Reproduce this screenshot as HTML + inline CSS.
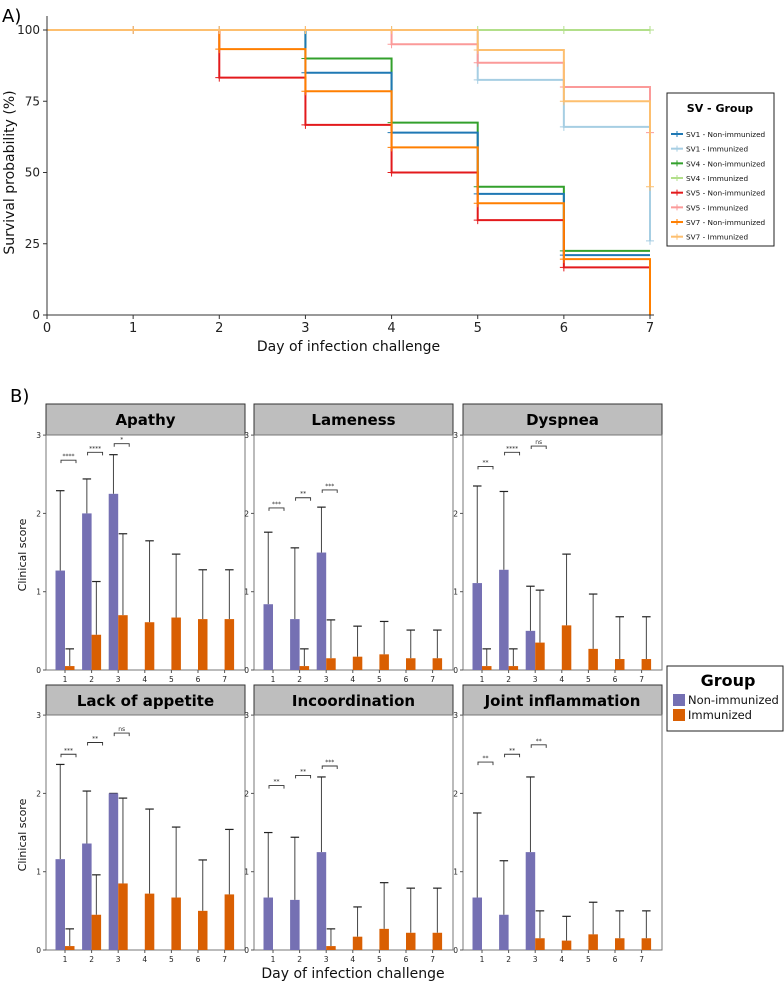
<!DOCTYPE html>
<html><head><meta charset="utf-8"><style>
html,body{margin:0;padding:0;background:#fff;}
svg{display:block;font-family:"DejaVu Sans","Liberation Sans",sans-serif;}
</style></head><body>
<svg id="chart" width="784" height="987" viewBox="0 0 784 987" xmlns="http://www.w3.org/2000/svg"></svg>
<script>
// ---------- Panel A data ----------
const days = [0,1,2,3,4,5,6,7];
const seriesNames = ["SV1 - Non-immunized","SV1 - Immunized","SV4 - Non-immunized","SV4 - Immunized","SV5 - Non-immunized","SV5 - Immunized","SV7 - Non-immunized","SV7 - Immunized"];
const sv1NonImm = [100,100,100,85,64,42.5,21];
const sv1Imm = [100,100,100,100,100,82.5,66,26];
const sv4NonImm = [100,100,100,90,67.5,45,22.5];
const sv4Imm = [100,100,100,100,100,100,100,100];
const sv5NonImm = [100,100,83.3,66.7,50,33.3,16.7];
const sv5Imm = [100,100,100,100,95,88.5,80,64];
const sv7NonImm = [100,100,93.3,78.5,58.8,39.2,19.6,0];
const sv7Imm = [100,100,100,100,100,93,75,45];
const survTicks = [0,25,50,75,100];
const colors = ["#1f78b4","#a6cee3","#33a02c","#b2df8a","#e31a1c","#fb9a99","#ff7f00","#fdbf6f"];

// ---------- Panel B data ----------
const categories = [1,2,3,4,5,6,7];
const facetTitles = ["Apathy","Lameness","Dyspnea","Lack of appetite","Incoordination","Joint inflammation"];
const nonImmMean = [[1.27,2.0,2.25],[0.84,0.65,1.5],[1.11,1.28,0.5],[1.16,1.36,2.0],[0.67,0.64,1.25],[0.67,0.45,1.25]];
const nonImmUpper = [[2.29,2.44,2.75],[1.76,1.56,2.08],[2.35,2.28,1.07],[2.37,2.03,2.0],[1.5,1.44,2.21],[1.75,1.14,2.21]];
const immMean = [[0.05,0.45,0.70,0.61,0.67,0.65,0.65],[0,0.05,0.15,0.17,0.2,0.15,0.15],[0.05,0.05,0.35,0.57,0.27,0.14,0.14],[0.05,0.45,0.85,0.72,0.67,0.5,0.71],[0,0,0.05,0.17,0.27,0.22,0.22],[0,0,0.15,0.12,0.2,0.15,0.15]];
const immUpper = [[0.27,1.13,1.74,1.65,1.48,1.28,1.28],[0,0.27,0.64,0.56,0.62,0.51,0.51],[0.27,0.27,1.02,1.48,0.97,0.68,0.68],[0.27,0.96,1.94,1.8,1.57,1.15,1.54],[0,0,0.27,0.55,0.86,0.79,0.79],[0,0,0.5,0.43,0.61,0.5,0.5]];
const sigLabels = [["****","****","*"],["***","**","***"],["**","****","ns"],["***","**","ns"],["**","**","***"],["**","**","**"]];
const sigHeights = [[2.68,2.78,2.89],[2.07,2.2,2.3],[2.6,2.78,2.86],[2.5,2.65,2.77],[2.1,2.23,2.35],[2.4,2.5,2.62]];
const scoreTicks = [0,1,2,3];

const svg = document.getElementById('chart');
const NS = "http://www.w3.org/2000/svg";
function mk(tag, attrs, parent, text){
  const e = document.createElementNS(NS, tag);
  for (const k in attrs) e.setAttribute(k, attrs[k]);
  if (text !== undefined) e.textContent = text;
  (parent||svg).appendChild(e);
  return e;
}

// ---- Panel A ----
const ax0 = 47, ax1 = 650, ay0 = 315, ay1 = 30;
const sx = d => ax0 + (ax1-ax0)*d/7;
const sy = v => ay0 - (ay0-ay1)*v/100;
const gA = mk('g', {});


let t = mk('text', {x:2, y:22, 'font-size':18, fill:'#000'}, gA, 'A)');



const seriesData = [sv1NonImm, sv1Imm, sv4NonImm, sv4Imm, sv5NonImm, sv5Imm, sv7NonImm, sv7Imm];
const order = [2,0,4,6,3,1,5,7];
order.forEach(i => {
  const vals = seriesData[i];
  let d = `M${sx(0)},${sy(vals[0])}`;
  for (let k = 1; k < vals.length; k++) {
    d += ` H${sx(days[k])} V${sy(vals[k])}`;
  }
  if (vals.length < 8) d += ` H${sx(7)}`;
  const p = mk('path', {d:d, fill:'none', stroke:colors[i], 'stroke-width':2}, gA);
  
  
  for (let k = 1; k < vals.length; k++) {
    if (vals[k] > 0) {
      const cx = sx(days[k]), cy = sy(vals[k]);
      mk('path', {d:`M${cx-4},${cy} H${cx+4} M${cx},${cy-4} V${cy+4}`, stroke:colors[i], 'stroke-width':1}, gA);
    }
  }
});
mk('line', {x1:ax0, y1:ay0, x2:ax1+4, y2:ay0, stroke:'#333', 'stroke-width':1}, gA);
mk('line', {x1:ax0, y1:ay0, x2:ax0, y2:16, stroke:'#333', 'stroke-width':1}, gA);
days.forEach(d => {
  mk('line', {x1:sx(d), y1:ay0, x2:sx(d), y2:ay0+4, stroke:'#333'}, gA);
  const tl = mk('text', {x:sx(d), y:ay0+17, 'font-size':13, 'text-anchor':'middle', fill:'#222'}, gA, d);
  
  
});
survTicks.forEach(v => {
  mk('line', {x1:ax0-4, y1:sy(v), x2:ax0, y2:sy(v), stroke:'#333'}, gA);
  const tl = mk('text', {x:ax0-7, y:sy(v)+4, 'font-size':12, 'text-anchor':'end', fill:'#222'}, gA, v);
  
  
});
t = mk('text', {x:sx(3.5), y:351, 'font-size':14, 'text-anchor':'middle', fill:'#111'}, gA, 'Day of infection challenge');


t = mk('text', {x:0, y:0, 'font-size':14, 'text-anchor':'middle', fill:'#111', transform:`translate(14,${sy(50)}) rotate(-90)`}, gA, 'Survival probability (%)');


const lg = mk('g', {}, gA);


mk('rect', {x:667, y:93, width:107, height:153, fill:'#fff', stroke:'#222', 'stroke-width':1}, lg);
mk('text', {x:720, y:112, 'font-size':11, 'font-weight':'bold', 'text-anchor':'middle', fill:'#000'}, lg, 'SV - Group');
seriesNames.forEach((n,i) => {
  const y = 134 + i*14.67;
  const e = mk('g', {}, lg);
  
  
  mk('line', {x1:671, y1:y, x2:683, y2:y, stroke:colors[i], 'stroke-width':2}, e);
  mk('line', {x1:677, y1:y-3, x2:677, y2:y+3, stroke:colors[i], 'stroke-width':1}, e);
  mk('text', {x:686, y:y+3, 'font-size':7.3, fill:'#111'}, e, n);
});

// ---- Panel B ----
const gB = mk('g', {});


t = mk('text', {x:10, y:402, 'font-size':18, fill:'#000'}, gB, 'B)');


const lefts = [46,254,463], pw = 199;
const rows = [{strip:404, top:435, zero:670}, {strip:685, top:715, zero:950}];
const unit = 78.3;
facetTitles.forEach((title, f) => {
  const col = f % 3, row = Math.floor(f/3);
  const L = lefts[col], R = rows[row];
  const g = mk('g', {}, gB);
  
  
  const yv = v => R.zero - v*unit;
  const xc = c => L + 19 + (c-1)*26.6;
  mk('rect', {x:L, y:R.strip, width:pw, height:R.top-R.strip, fill:'#bebebe', stroke:'#333', 'stroke-width':1}, g);
  const st = mk('text', {x:L+pw/2, y:R.strip+21, 'font-size':15, 'font-weight':'bold', 'text-anchor':'middle', fill:'#000'}, g, title);
  
  
  mk('rect', {x:L, y:R.top, width:pw, height:R.zero-R.top, fill:'none', stroke:'#777', 'stroke-width':1}, g);
  scoreTicks.forEach(v => {
    mk('line', {x1:L-3, y1:yv(v), x2:L, y2:yv(v), stroke:'#555'}, g);
    mk('text', {x:L-5, y:yv(v)+3, 'font-size':7.5, 'text-anchor':'end', fill:'#222'}, g, v);
  });
  categories.forEach((c,k) => {
    const cx = xc(c);
    mk('line', {x1:cx, y1:R.zero, x2:cx, y2:R.zero+3, stroke:'#555'}, g);
    mk('text', {x:cx, y:R.zero+12, 'font-size':7.5, 'text-anchor':'middle', fill:'#222'}, g, c);
    if (k < nonImmMean[f].length) {
      const m = nonImmMean[f][k], u = nonImmUpper[f][k];
      const bx = cx-9.5;
      mk('line', {x1:bx+4.75, y1:yv(m), x2:bx+4.75, y2:yv(u), stroke:'#444', 'stroke-width':1}, g);
      mk('line', {x1:bx+0.5, y1:yv(u), x2:bx+9, y2:yv(u), stroke:'#222', 'stroke-width':1.2}, g);
      const b = mk('rect', {x:bx, y:yv(m), width:9.5, height:m*unit, fill:'#7570b3'}, g);
      
      
    }
    const m = immMean[f][k], u = immUpper[f][k];
    if (u > 0) {
      mk('line', {x1:cx+4.75, y1:yv(m), x2:cx+4.75, y2:yv(u), stroke:'#444', 'stroke-width':1}, g);
      mk('line', {x1:cx+0.5, y1:yv(u), x2:cx+9, y2:yv(u), stroke:'#222', 'stroke-width':1.2}, g);
    }
    const b = mk('rect', {x:cx, y:yv(m), width:9.5, height:m*unit, fill:'#d95f02'}, g);
    
    
  });
  sigLabels[f].forEach((s,k) => {
    const cx = xc(categories[k]), y = yv(sigHeights[f][k]);
    const sg = mk('g', {}, g);
    
    
    mk('path', {d:`M${cx-4},${y+3} V${y} H${cx+11} V${y+3}`, fill:'none', stroke:'#333', 'stroke-width':0.9}, sg);
    mk('text', {x:cx+3.5, y:y-2, 'font-size':6, 'text-anchor':'middle', fill:'#333'}, sg, s);
  });
});
[555, 835].forEach(y => {
  const yt = mk('text', {x:0, y:0, 'font-size':11, 'text-anchor':'middle', fill:'#111', transform:`translate(26,${y}) rotate(-90)`}, gB, 'Clinical score');
  
  
});
t = mk('text', {x:353, y:978, 'font-size':14, 'text-anchor':'middle', fill:'#111'}, gB, 'Day of infection challenge');


const gl = mk('g', {}, gB);


mk('rect', {x:667, y:666, width:116, height:65, fill:'#fff', stroke:'#222', 'stroke-width':1}, gl);
mk('text', {x:728, y:686, 'font-size':16, 'font-weight':'bold', 'text-anchor':'middle', fill:'#000'}, gl, 'Group');
mk('rect', {x:673, y:694, width:12, height:12, fill:'#7570b3'}, gl);
mk('text', {x:688, y:704, 'font-size':11.5, fill:'#111'}, gl, 'Non-immunized');
mk('rect', {x:673, y:709, width:12, height:12, fill:'#d95f02'}, gl);
mk('text', {x:688, y:719, 'font-size':11.5, fill:'#111'}, gl, 'Immunized');
</script>
</body></html>
